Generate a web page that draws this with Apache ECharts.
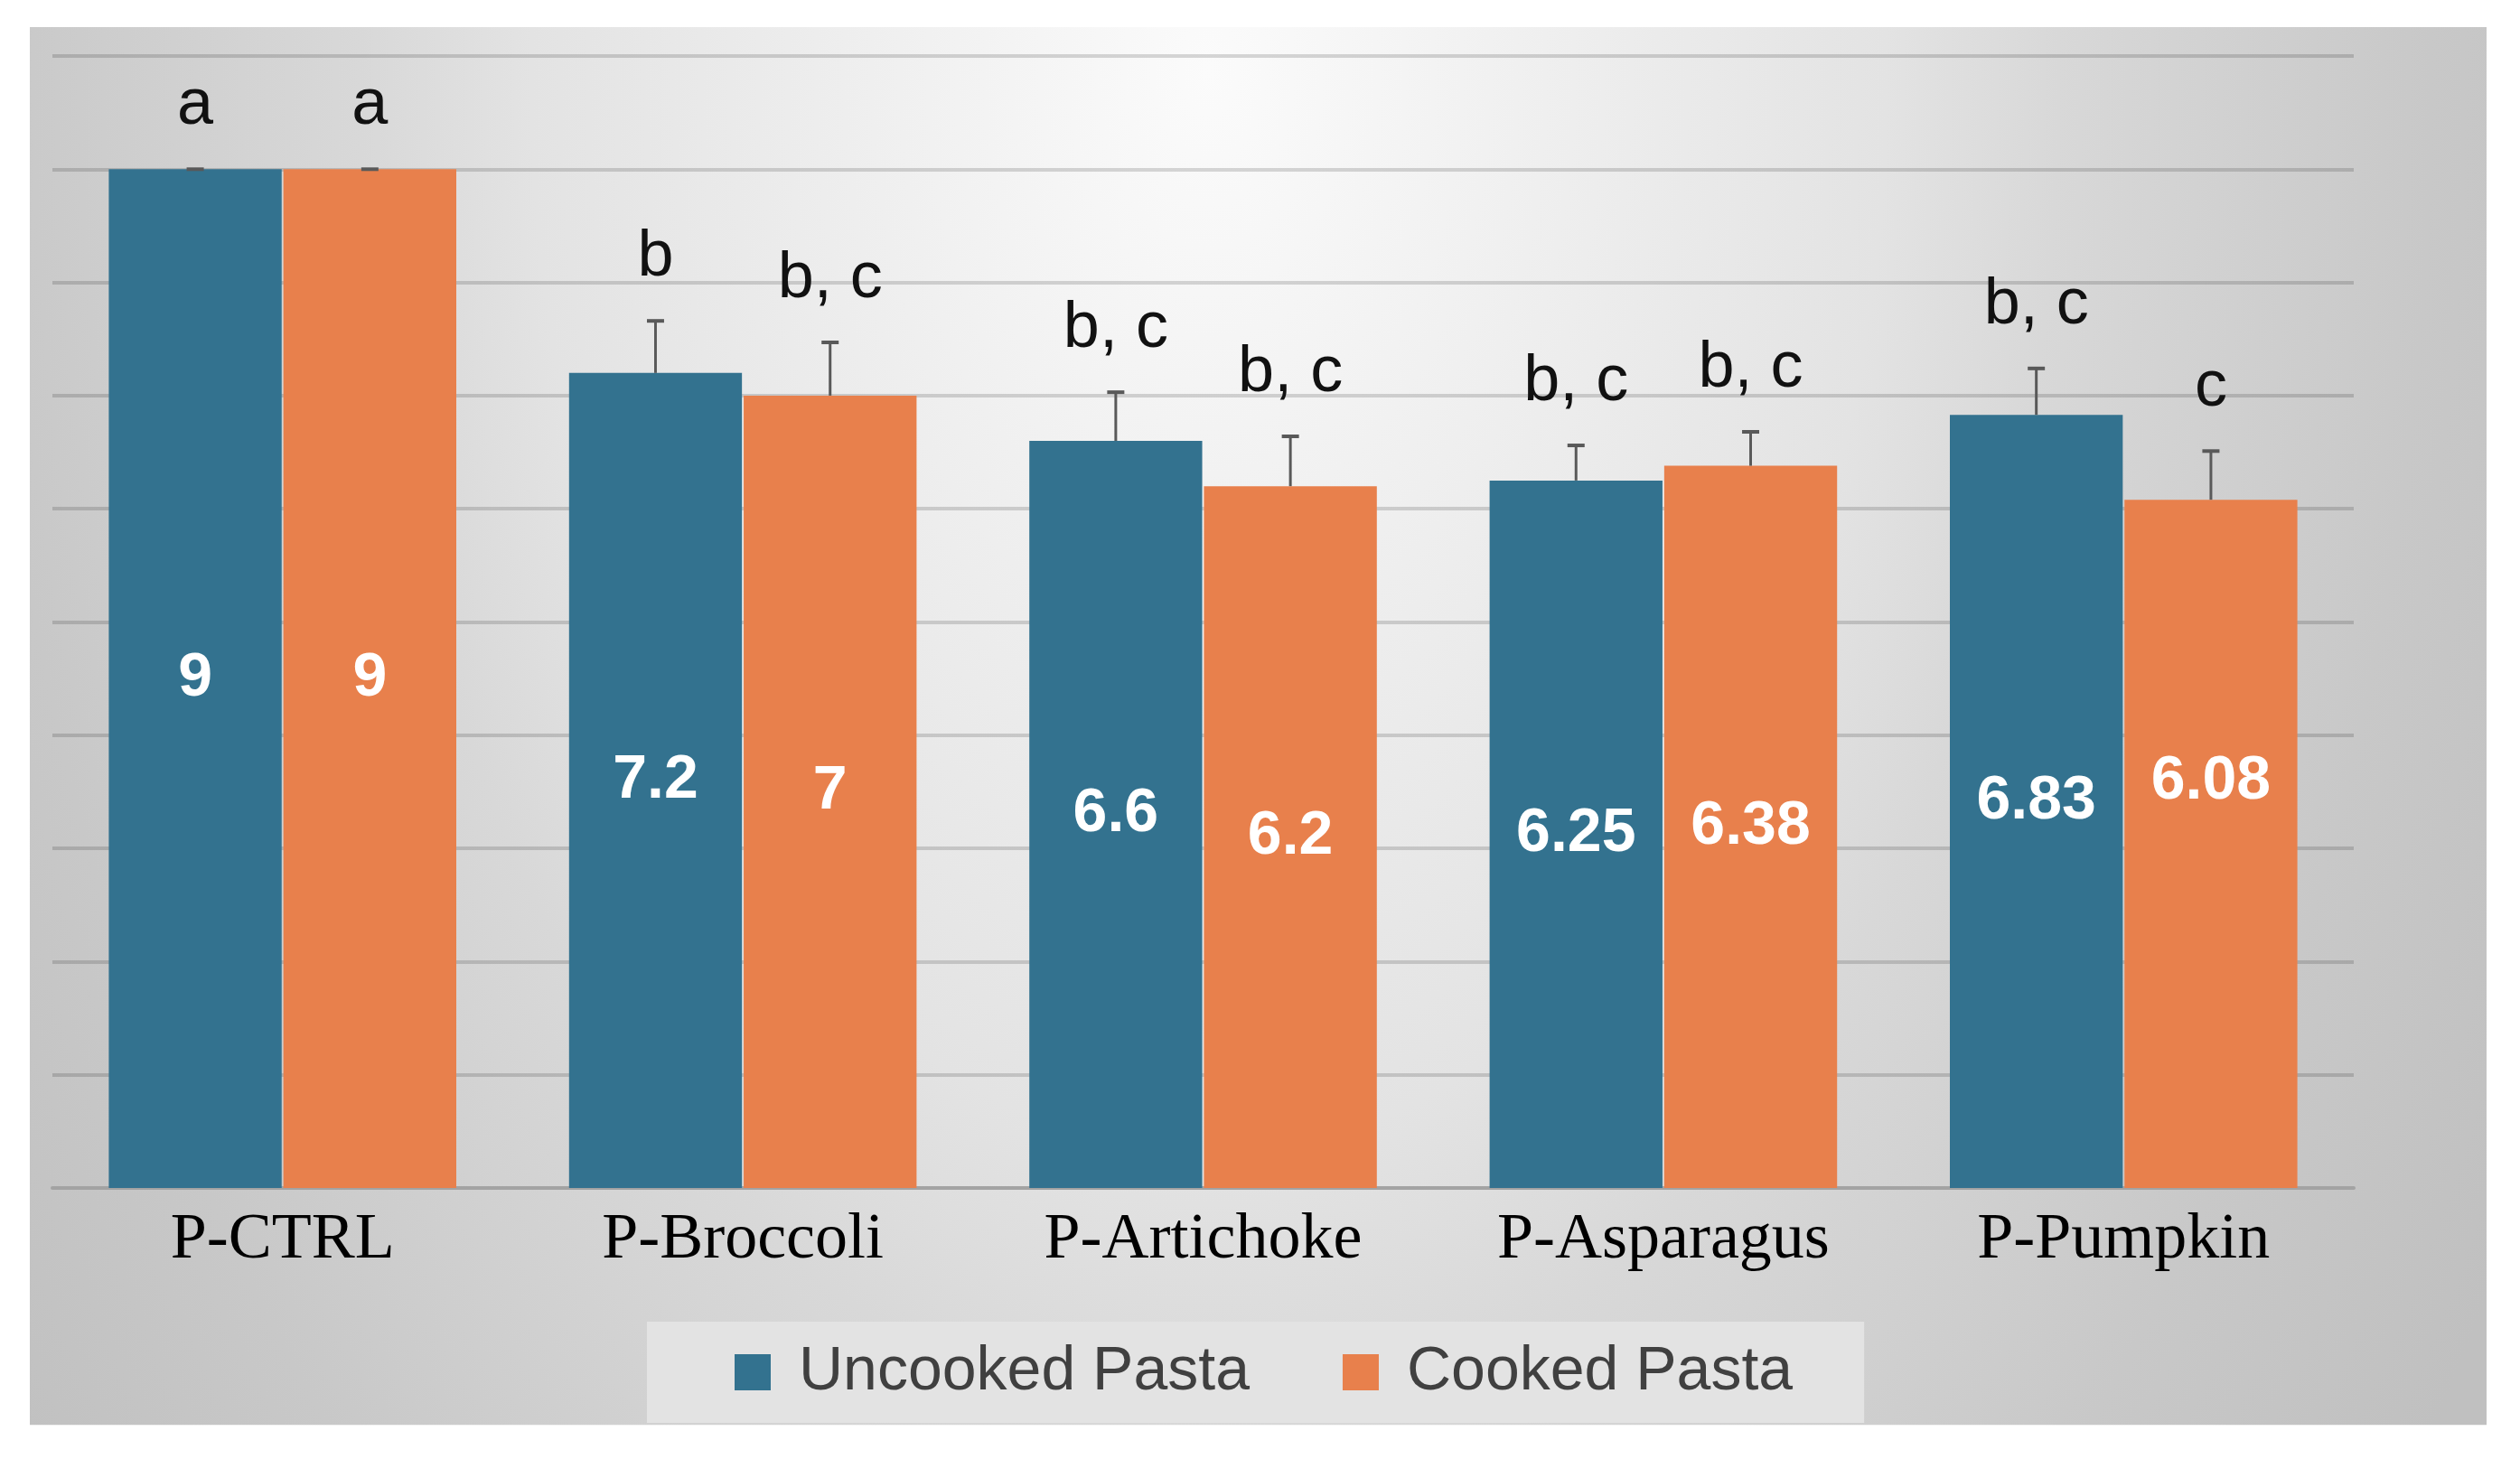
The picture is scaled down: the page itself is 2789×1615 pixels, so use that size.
<!DOCTYPE html>
<html>
<head>
<meta charset="utf-8">
<script src="https://cdn.jsdelivr.net/npm/echarts@6/dist/echarts.min.js"></script>
<style>
html,body{margin:0;padding:0;background:#ffffff;}
#chart{width:2789px;height:1615px;}
</style>
</head>
<body>
<div id="chart"></div>
<script>
// ---- data ----
const categories = ['P-CTRL', 'P-Broccoli', 'P-Artichoke', 'P-Asparagus', 'P-Pumpkin'];
const seriesNames = ['Uncooked Pasta', 'Cooked Pasta'];
const uncooked = [9, 7.2, 6.6, 6.25, 6.83];
const cooked = [9, 7, 6.2, 6.38, 6.08];
const uncookedErr = [0, 0.46, 0.43, 0.31, 0.41];
const cookedErr = [0, 0.47, 0.44, 0.30, 0.43];
const uncookedLetters = ['a', 'b', 'b, c', 'b, c', 'b, c'];
const cookedLetters = ['a', 'b, c', 'b, c', 'b, c', 'c'];
const yMin = 0, yMax = 10, yStep = 1;

// ---- style ----
const COLORS = ['#33728f', '#e8804c'];
const CAT_GAP = 0.245, BAR_GAP = 0.01;
const SANS = '"Liberation Sans", Arial, sans-serif';
const SERIF = '"Liberation Serif", "Times New Roman", serif';

function errSeries(idx, values, errs, letters) {
  return {
    type: 'custom',
    name: seriesNames[idx] + ' error',
    z: 5,
    silent: true,
    data: values.map((v, i) => [i, v, errs[i]]),
    encode: { x: 0, y: 1 },
    renderItem: function (params, api) {
      const i = api.value(0), v = api.value(1), e = api.value(2);
      const band = api.size([1, 0])[0];
      const bw = band * (1 - CAT_GAP) / (2 + BAR_GAP);
      const off = (idx === 0 ? -1 : 1) * (bw / 2 + bw * BAR_GAP / 2);
      const base = api.coord([i, v]);
      const top = api.coord([i, v + e]);
      const x = base[0] + off;
      return {
        type: 'group',
        children: [
          { type: 'line', shape: { x1: x, y1: base[1], x2: x, y2: top[1] }, style: { stroke: '#595959', lineWidth: 3 } },
          { type: 'line', shape: { x1: x - 9.5, y1: top[1], x2: x + 9.5, y2: top[1] }, style: { stroke: '#595959', lineWidth: 4 } },
          { type: 'text', x: x, y: top[1] - 70,
            style: { text: letters[params.dataIndex], fill: '#111111', fontSize: 72, fontFamily: SANS, align: 'center', verticalAlign: 'middle' } }
        ]
      };
    }
  };
}

const chart = echarts.init(document.getElementById('chart'), null, { renderer: 'canvas' });
chart.setOption({
  animation: false,
  backgroundColor: '#ffffff',
  graphic: [{
    type: 'rect', z: -10, silent: true,
    x: 33, y: 30, scaleY: 1.6,
    shape: { x: 0, y: 0, width: 2719, height: 967 },
    style: {
      fill: {
        type: 'radial', x: 0.48, y: 0.03, r: 1.706,
        colorStops: [
          { offset: 0, color: '#fbfbfb' },
          { offset: 0.245, color: '#eeeeee' },
          { offset: 0.455, color: '#e3e3e3' },
          { offset: 0.57, color: '#d8d8d8' },
          { offset: 0.82, color: '#c8c8c8' },
          { offset: 1, color: '#c0c0c0' }
        ]
      }
    }
  }],
  grid: { left: 58, right: 184, top: 62, bottom: 300, containLabel: false },
  legend: {
    data: seriesNames,
    left: 716, top: 1463,
    backgroundColor: '#e3e3e3',
    padding: [16, 79, 16, 97],
    itemWidth: 40, itemHeight: 40, itemGap: 103,
    icon: 'rect',
    textStyle: { fontSize: 68, color: '#404040', fontFamily: SANS, lineHeight: 80, padding: [0, 0, 0, 26] }
  },
  xAxis: {
    type: 'category',
    data: categories,
    axisTick: { show: false },
    axisLine: { lineStyle: { color: '#a3a3a3', width: 4 } },
    axisLabel: { fontFamily: SERIF, fontSize: 72, color: '#000000', margin: 22 }
  },
  yAxis: {
    type: 'value', min: yMin, max: yMax, interval: yStep,
    axisLabel: { show: false },
    axisLine: { show: false },
    axisTick: { show: false },
    splitLine: { lineStyle: { color: 'rgba(0,0,0,0.15)', width: 4 } }
  },
  series: [
    {
      type: 'bar', name: seriesNames[0], data: uncooked,
      barCategoryGap: (CAT_GAP * 100) + '%', barGap: (BAR_GAP * 100) + '%',
      itemStyle: { color: COLORS[0] },
      label: { show: true, position: 'inside', color: '#ffffff', fontSize: 68, fontWeight: 'bold', fontFamily: SANS }
    },
    {
      type: 'bar', name: seriesNames[1],
      data: cooked.map((v, i) => i === 4 ? { value: v, label: { offset: [0, -69] } } : v),
      barCategoryGap: (CAT_GAP * 100) + '%', barGap: (BAR_GAP * 100) + '%',
      itemStyle: { color: COLORS[1] },
      label: { show: true, position: 'inside', color: '#ffffff', fontSize: 68, fontWeight: 'bold', fontFamily: SANS }
    },
    errSeries(0, uncooked, uncookedErr, uncookedLetters),
    errSeries(1, cooked, cookedErr, cookedLetters)
  ]
});
</script>
</body>
</html>
